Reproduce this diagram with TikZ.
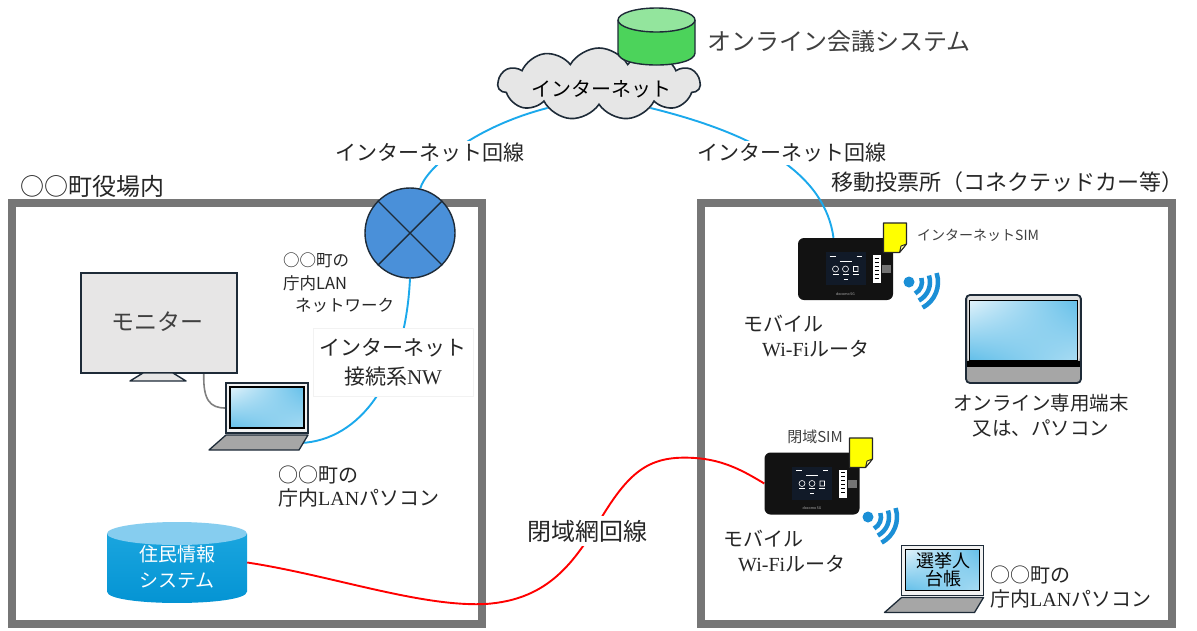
\documentclass[tikz,border=0pt]{standalone}
\usepackage{fontspec}
\setmainfont{Liberation Serif}
\newfontfamily\jp{Noto Sans CJK JP}
\newfontfamily\lserif{Liberation Serif}
\usetikzlibrary{shapes.symbols,shadings,calc}

\definecolor{ink}{HTML}{262626}
\definecolor{softink}{HTML}{404040}
\definecolor{framegray}{HTML}{767676}
\definecolor{netblue}{HTML}{1BA9EC}
\definecolor{outline}{HTML}{1E2B38}
\definecolor{hubblue}{HTML}{4A90D9}
\definecolor{cloudfill}{HTML}{E6E6E6}
\definecolor{dbtop}{HTML}{93E59D}
\definecolor{dbbody}{HTML}{4CD35B}
\definecolor{resitop}{HTML}{86CDEF}
\definecolor{resibody}{HTML}{1AA5DE}
\definecolor{resibot}{HTML}{0393D3}
\definecolor{wifiblue}{HTML}{1B8FD6}
\definecolor{simyellow}{HTML}{FFFF00}
\definecolor{screenlight}{HTML}{E2F3FB}
\definecolor{screenblue}{HTML}{63BFE9}
\definecolor{basegray}{HTML}{A6A6A6}
\definecolor{monfill}{HTML}{E7E6E6}
\definecolor{lcd}{HTML}{111A28}

\pgfdeclarelayer{frames}
\pgfdeclarelayer{wires}
\pgfsetlayers{frames,wires,main}

\newcommand\setfs[2]{\fontsize{#1pt}{#2pt}\selectfont}

\tikzset{
  txt/.style={inner sep=0pt, text=ink},
  areaframe/.style={draw=framegray, line width=8pt, inner sep=0pt, minimum height=421.5pt},
  netwire/.style={draw=netblue, line width=1.9pt},
  closedwire/.style={draw=red, line width=1.9pt},
  cablewire/.style={draw=black!50, line width=1.6pt},
  wirelabel/.style={txt, fill=white, inner sep=2pt},
  device/.style={fill=black!93, rounded corners=6pt, minimum width=95pt, minimum height=62pt, inner sep=0pt},
  laptopframe/.style={draw=outline, fill=black!5, line width=1.3pt, minimum width=82pt, minimum height=50pt, inner sep=0pt},
  glass/.style={upper left=screenlight, upper right=screenblue, lower left=screenblue, lower right=screenblue!55!white},
}

% pocket router: screen, barcode label, port and brand text
\newcommand\routerface[1]{%
  \begin{scope}[shift={(#1.center)}]
    \fill[lcd] (-20,-17) rectangle (20,16);
    \draw[white, line width=.5pt] (-16,-13) -- (-10,-13) (11,-13) -- (16,-13) (-6,-8) -- (6,-8)
      (-13,5) -- (-7,5) (-3,5) -- (3,5) (7,5) -- (13,5) (-2,10) -- (2,10);
    \draw[white, line width=.6pt] (-10,0) circle (3) (0,0) circle (3) (8,-2.5) rectangle (12.5,2.5);
    \fill[white] (27,-14) rectangle (35,14);
    \foreach \yy in {-11,-7,...,11} \draw[black, line width=.7pt] (29,\yy) -- (33,\yy);
    \fill[black!55] (36,-4) rectangle (45,4);
    \node[font={\jp\setfs{3.5}{4}}, text=white!75!black, inner sep=0pt] (#1brand) at (0,25) {docomo 5G};
  \end{scope}}

% SIM card with a folded corner
\newcommand\simcard[2]{%
  \begin{scope}[shift={(#1,#2)}]
    \filldraw[fill=simyellow, draw=black!85, line width=1.1pt, line join=round]
      (0,0) -- (23,0) -- (23,21) -- (16,29.5) -- (0,29.5) -- cycle;
    \filldraw[fill=yellow!40!white, draw=black!85, line width=.9pt, line join=round]
      (23,21) -- (17.5,23) -- (16,29.5) -- cycle;
  \end{scope}}

% radio waves
\newcommand\wifisign[2]{%
  \fill[wifiblue] (#1,#2) circle (5.5);
  \foreach \rr in {13,21,29}
    \draw[wifiblue, line width=4.5pt] (#1,#2) ++(-18:\rr) arc (-18:62:\rr);}

% laptop screen and keyboard base
\newcommand\laptopparts[1]{%
  \begin{scope}[shift={(#1.center)}]
    \shade[glass] (-37,-21) rectangle (37,20);
    \draw[black, line width=1.2pt] (-37,-21) rectangle (37,20);
    \filldraw[fill=basegray, draw=outline, line width=1.3pt, line join=round]
      (-41,27) -- (41,27) -- (32,42) -- (-58,42) -- cycle;
  \end{scope}}

\begin{document}
\begin{tikzpicture}[x=1pt,y=-1pt]
\useasboundingbox (0,0) rectangle (1197,630);

% ---------- areas ----------
\begin{pgfonlayer}{frames}
  \fill[white] (0,0) rectangle (1197,630);
  \node[areaframe, minimum width=470pt] (town) at (247,413.25) {};
  \node[areaframe, minimum width=471pt] (booth) at (936.5,413.25) {};
\end{pgfonlayer}
\node[txt, font={\jp\setfs{24}{28}}] (townttl) at (92,186) {○○町役場内};
\node[txt, font={\jp\setfs{22}{26}}] (boothttl) at (1007.5,182) {移動投票所（コネクテッドカー等）};

% ---------- internet and meeting system ----------
\node[cloud, cloud puffs=11, cloud puff arc=120, cloud ignores aspect, draw=outline, fill=cloudfill,
      line width=1.6pt, minimum width=202pt, minimum height=72pt, inner sep=0pt] (inet) at (599,84) {};
\node[txt, text=black, font={\jp\setfs{20}{24}}] (inettext) at (601,89) {インターネット};

\fill[dbbody] (618,20) -- (618,53) .. controls (618,69) and (695,69) .. (695,53) -- (695,20) -- cycle;
\draw[outline, line width=1.4pt] (618,20) -- (618,53) .. controls (618,69) and (695,69) .. (695,53) -- (695,20);
\filldraw[fill=dbtop, draw=outline, line width=1.4pt] (656.5,20) ellipse (38.5 and 12);
\node[txt, text=softink, font={\jp\setfs{24}{28}}, anchor=west] (meeting) at (707,41) {オンライン会議システム};

% ---------- town hall side ----------
\node[circle, draw=outline, fill=hubblue, line width=1.4pt, minimum size=90pt, inner sep=0pt] (hub) at (410,233) {};
\draw[outline, line width=1.4pt] (hub.45) -- (hub.225) (hub.135) -- (hub.-45);
\node[txt, font={\jp\setfs{16.5}{22.5}}, align=left, anchor=west] (hubtext) at (283,283)
  {○○町の\\庁内LAN\\\hspace*{12pt}ネットワーク};

\node[draw=outline, fill=monfill, line width=1.6pt, minimum width=156pt, minimum height=100pt, inner sep=0pt] (mon) at (159,323) {};
\node[txt, text=softink, font={\jp\setfs{23}{27}}] (montext) at (157,322) {モニター};
\filldraw[fill=monfill, draw=outline, line width=1.4pt, line join=round] (143,373) -- (173,373) -- (186,381) -- (130,381) -- cycle;

\node[laptopframe] (pc1) at (267,408) {};
\laptopparts{pc1}
\coordinate (pc1port) at (301,443);

\node[txt, fill=white, draw=black!5, inner sep=0pt, minimum width=160pt, minimum height=68pt,
      font={\jp\setfs{21}{29}}, align=center] (inetnw) at (393,362) {インターネット\\接続系{\lserif NW}};
\node[txt, font={\jp\setfs{20}{23}}, align=left, anchor=west] (pc1text) at (278,487)
  {○○町の\\庁内{\lserif LAN}パソコン};

% resident records database
\node[minimum width=140pt, minimum height=81pt, inner sep=0pt] (jumin) at (177,562.5) {};
\shade[top color=resibody, bottom color=resibot] (107,533.5) -- (107,591.5) .. controls (107,606.8) and (247,606.8) .. (247,591.5) -- (247,533.5) -- cycle;
\fill[resitop] (177,533.5) ellipse (70 and 11.5);
\node[txt, text=white, font={\jp\setfs{19}{26}}, align=center] (jumintext) at (177,567) {住民情報\\システム};

% ---------- mobile polling station ----------
\node[device] (r1) at (845.5,269) {};
\routerface{r1}
\simcard{883.5}{223}
\node[txt, text=softink, font={\jp\setfs{14}{16}}, anchor=west] (sim1) at (917,235) {インターネットSIM};
\wifisign{909}{282}
\node[txt, font={\jp\setfs{20}{25.5}}, align=left, anchor=west] (r1text) at (743,336)
  {モバイル\\\hspace*{19pt}{\lserif Wi-Fi}ルータ};

\node[draw=outline, fill=basegray, line width=1.8pt, rounded corners=4pt, minimum width=115pt, minimum height=88pt, inner sep=0pt] (term) at (1023.5,339) {};
\begin{scope}[shift={(term.center)}]
  \fill[black!12, rounded corners=3pt] (-56,-43) rectangle (56,22);
  \shade[glass] (-54,-39) rectangle (54,21);
  \draw[black, line width=1pt] (-54,-39) rectangle (54,21);
  \fill[black] (-56.5,22) rectangle (56.5,28);
\end{scope}
\node[txt, font={\jp\setfs{19.5}{25}}, align=center] (termtext) at (1041,416) {オンライン専用端末\\又は、パソコン};

\node[device] (r2) at (812,483.5) {};
\routerface{r2}
\simcard{849.5}{438}
\node[txt, text=softink, font={\jp\setfs{15}{17}}] (sim2) at (815,437) {閉域SIM};
\wifisign{868}{517}
\node[txt, font={\jp\setfs{20}{25}}, align=left, anchor=west] (r2text) at (723,551.5)
  {モバイル\\\hspace*{15pt}{\lserif Wi-Fi}ルータ};

\node[laptopframe] (pc2) at (942.5,570.5) {};
\laptopparts{pc2}
\node[txt, text=black, font={\jp\setfs{18}{18}}, align=center] (ledger) at (943,570) {選挙人\\台帳};
\node[txt, font={\jp\setfs{20}{24}}, align=left, anchor=west] (pc2text) at (990,587)
  {○○町の\\庁内{\lserif LAN}パソコン};

% ---------- line labels ----------
\node[wirelabel, font={\jp\setfs{21}{25}}] (linkL) at (430,153) {インターネット回線};
\node[wirelabel, font={\jp\setfs{21}{25}}] (linkR) at (792,153) {インターネット回線};
\node[wirelabel, inner sep=4pt, font={\jp\setfs{24}{28}}] (closedlink) at (587,531) {閉域網回線};

% ---------- connections ----------
\begin{pgfonlayer}{wires}
  \draw[netwire] (inet.205) .. controls (470,128) and (425,170) .. (hub.77);
  \draw[netwire] (inet.-25) .. controls (760,135) and (825,175) .. ([xshift=-12pt]r1.north);
  \draw[netwire] (hub.south) .. controls (405,380) and (360,440) .. (pc1port);
  \draw[cablewire] ([xshift=-34pt]mon.south east) .. controls (203,400) and (210,408) .. (pc1.west);
  \draw[closedwire] (jumin.east) .. controls (330,575) and (420,607) .. (485,604)
    .. controls (550,600) and (575,560) .. (600,520)
    .. controls (630,470) and (650,455) .. (695,458)
    .. controls (725,460) and (745,472) .. (r2.west);
\end{pgfonlayer}
\end{tikzpicture}
\end{document}
